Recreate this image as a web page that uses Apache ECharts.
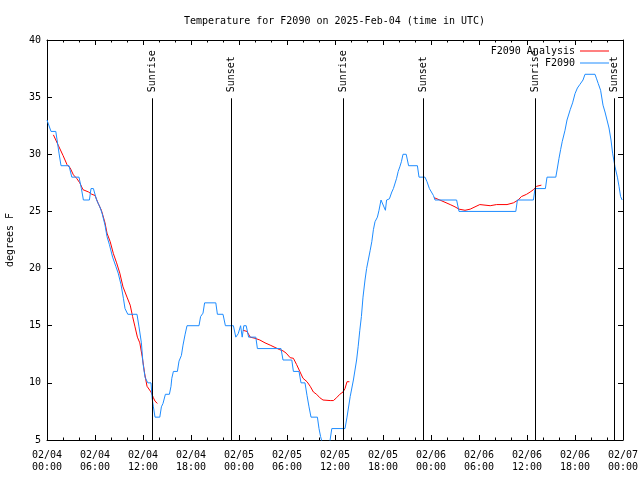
<!DOCTYPE html>
<html>
<head>
<meta charset="utf-8">
<script src="https://cdn.jsdelivr.net/npm/echarts@6/dist/echarts.min.js"></script>
<style>html,body{margin:0;padding:0;background:#fff}#c{width:640px;height:480px}</style>
</head>
<body>
<div id="c"></div>
<script>
// Observed F2090 temperature: hours since 2025-02-04 00:00 UTC, degrees F
const obsHours = [0,0.5,1.1,1.5,1.75,2.75,3.1,4.0,4.3,4.55,5.3,5.5,5.8,6.2,6.6,6.9,7.25,7.5,7.8,8.2,8.6,8.9,9.25,9.55,9.75,10.1,11.25,11.5,11.8,12.0,12.25,12.6,13.0,13.15,13.3,13.5,14.1,14.3,14.5,14.8,15.3,15.5,15.6,15.8,16.3,16.5,16.8,17.0,17.25,17.5,19.0,19.2,19.5,19.7,21.1,21.3,22.0,22.3,23.3,23.6,23.9,24.2,24.4,24.6,24.9,25.2,26.1,26.3,29.25,29.5,30.6,30.8,31.5,31.75,32.25,32.5,32.75,33.0,33.8,34.0,34.2,34.5,34.9,35.3,35.6,37.25,37.5,37.9,38.3,38.7,38.9,39.1,39.3,39.5,39.75,39.95,40.4,40.6,40.8,41.0,41.3,41.5,41.75,42.0,42.3,42.45,42.8,43.1,43.3,43.5,43.7,43.9,44.1,44.3,44.5,44.9,45.2,46.3,46.5,47.25,47.5,47.8,48.0,48.3,48.5,51.2,51.5,58.6,58.8,60.8,61.0,62.3,62.5,63.6,63.8,64.0,64.2,64.4,64.75,65.0,65.4,65.7,66.0,66.3,66.6,67.0,67.25,68.5,68.7,68.9,69.2,69.5,69.75,70.0,70.25,70.5,70.7,71.0,71.3,71.5,71.7,71.9];
const obsTemps = [33,32,32,30.1,29,29,28,28,27,26,26,27,27,26,25.4,24.8,23.8,22.8,22.1,21,20.2,19.6,18.6,17.4,16.5,16,16,14.9,13.5,11.7,10.5,10,10,8.6,7.9,7,7,7.9,8.2,9,9,9.7,10.4,11,11,11.9,12.4,13.3,14.2,15,15,15.8,16.1,17,17,16,16,15,15,14,14.3,15,14,15,15,14,14,13,13,12,12,11,11,10,10,8.9,7.9,7,7,6,5.3,4.5,4.2,4.6,6,6,7,8.8,10.25,12,13.2,14.6,15.8,17.5,19,20,21.6,22.35,23.4,24.1,24.5,25.1,26,26,25.1,26,26.1,26.7,27,27,27.9,28.5,28.9,29.35,30,30,29,29,28,28,27.6,27,27,26.4,26,26,25,25,26,26,27,27,28,28,28.8,29.65,30.4,31.1,32.1,33,33.9,34.5,35.3,35.8,36.1,36.5,37,37,36.6,36.2,35.6,34.3,33.7,33,32.3,31.25,30.1,28.9,28,27.2,26.3,26];

// Analysis F2090 (null = gap between runs)
const anaHours = [0.8,1.4,2.0,2.5,2.9,3.3,3.7,4.1,4.5,5.2,5.6,6.0,6.4,6.8,7.25,7.5,7.9,8.3,8.7,9.1,9.5,10.0,10.4,10.7,11.0,11.3,11.6,11.9,12.2,12.5,13.0,13.3,13.5,13.8,19,
  24.5,25.0,25.4,26.0,26.6,27.25,27.9,28.5,29.1,29.5,29.9,30.4,30.8,31.2,31.6,32.0,32.5,32.9,33.3,33.7,34.1,34.5,35.4,35.8,36.2,36.6,37.0,37.25,37.5,37.8,43,
  48.4,49.1,49.75,50.4,51.0,51.5,52.25,52.9,53.5,54.1,55.4,56.2,57.5,58.3,58.9,59.3,59.95,60.4,60.8,61.2,61.8];
const anaTemps = [31.7,30.8,29.9,29.1,28.8,28.2,27.9,27.5,26.9,26.7,26.5,26.4,25.7,25.1,24.0,23.1,22.35,21.3,20.5,19.6,18.4,17.5,16.8,15.8,14.9,14.0,13.5,12.3,10.85,9.7,9.2,8.7,8.4,8.2,null,
  14.6,14.5,14.0,13.9,13.75,13.5,13.3,13.1,12.9,12.8,12.6,12.2,12.15,11.6,11.0,10.4,10.1,9.7,9.2,9.0,8.7,8.5,8.45,8.45,8.7,9.0,9.2,9.5,10.1,10.1,null,
  26.2,26.0,25.8,25.6,25.4,25.2,25.1,25.2,25.4,25.6,25.5,25.6,25.6,25.75,26.0,26.3,26.5,26.7,26.9,27.2,27.3];

// Sunrise / sunset events (hours)
const eventHours = [13.15, 23.05, 37.05, 47.05, 61.05, 70.9];
const eventLabels = ['Sunrise','Sunset','Sunrise','Sunset','Sunrise','Sunset'];

const xTickLabels = ['02/04\n00:00','02/04\n06:00','02/04\n12:00','02/04\n18:00','02/05\n00:00','02/05\n06:00','02/05\n12:00','02/05\n18:00','02/06\n00:00','02/06\n06:00','02/06\n12:00','02/06\n18:00','02/07\n00:00'];

const FONT = 'DejaVu Sans Mono';
const chart = echarts.init(document.getElementById('c'), null, {renderer:'canvas'});

function xAx(pos, showLabel){
  return {
    type:'value', position:pos, min:0, max:72, interval:6,
    axisLine:{show:true, onZero:false, lineStyle:{color:'#000', width:1}},
    axisTick:{show:true, inside:true, length:5, lineStyle:{color:'#000'}},
    minorTick:{show:true, splitNumber:3, length:2.5, lineStyle:{color:'#000'}},
    splitLine:{show:false},
    axisLabel:{show:showLabel, color:'#000', fontFamily:FONT, fontSize:10, lineHeight:12, margin:9,
      formatter:function(v){ return xTickLabels[Math.round(v/6)] || ''; }}
  };
}
function yAx(pos, showLabel){
  return {
    type:'value', position:pos, min:5, max:40, interval:5,
    axisLine:{show:true, onZero:false, lineStyle:{color:'#000', width:1}},
    axisTick:{show:true, inside:true, length:5, lineStyle:{color:'#000'}},
    splitLine:{show:false},
    axisLabel:{show:showLabel, color:'#000', fontFamily:FONT, fontSize:10, margin:6},
    name: showLabel ? 'degrees F' : '',
    nameLocation:'middle', nameRotate:90, nameGap:32,
    nameTextStyle:{color:'#000', fontFamily:FONT, fontSize:10}
  };
}

const legendCommon = {padding:0, orient:'vertical', align:'right', icon:'rect',
  itemWidth:29, itemHeight:1, itemGap:3,
  textStyle:{fontFamily:FONT, fontSize:10, color:'#000'}};

const option = {
  animation:false,
  backgroundColor:'#fff',
  title:{text:'Temperature for F2090 on 2025-Feb-04 (time in UTC)', left:184, top:16, padding:0,
    textStyle:{fontFamily:FONT, fontSize:10, fontWeight:'normal', color:'#000'}},
  grid:{left:47, right:17, top:40, bottom:40, containLabel:false, outerBoundsMode:'none'},
  legend:[
    Object.assign({data:['F2090 Analysis'], right:31, top:46}, legendCommon),
    Object.assign({data:['F2090'], right:31, top:58}, legendCommon)
  ],
  xAxis:[xAx('bottom', true), xAx('top', false)],
  yAxis:[yAx('left', true), yAx('right', false)],
  series:[
    {name:'F2090 Analysis', type:'line', symbol:'none', connectNulls:false,
      lineStyle:{color:'#ff0000', width:1}, itemStyle:{color:'#ff0000'},
      data: anaHours.map((h,i)=>[h, anaTemps[i]]), z:2},
    {name:'F2090', type:'line', symbol:'none',
      lineStyle:{color:'#1e8cff', width:1}, itemStyle:{color:'#1e8cff'},
      data: obsHours.map((h,i)=>[h, obsTemps[i]]), z:3},
    {name:'events', type:'custom', z:4, silent:true,
      data: eventHours.map((h,i)=>[h, i]),
      renderItem:function(params, api){
        const h = api.value(0), i = api.value(1);
        const p0 = api.coord([h,5]), p1 = api.coord([h,34.9]);
        const x = Math.round(p0[0]) + 0.5;
        return {type:'group', children:[
          {type:'line', shape:{x1:x, y1:p0[1], x2:x, y2:p1[1]}, style:{stroke:'#000', lineWidth:1}},
          {type:'text', x:x, y:p1[1]-6, rotation:Math.PI/2,
            style:{text:eventLabels[i], x:0, y:0, align:'left', verticalAlign:'middle',
              font:'10px "DejaVu Sans Mono"', fill:'#000'}}
        ]};
      }}
  ]
};
chart.setOption(option);
</script>
</body>
</html>
